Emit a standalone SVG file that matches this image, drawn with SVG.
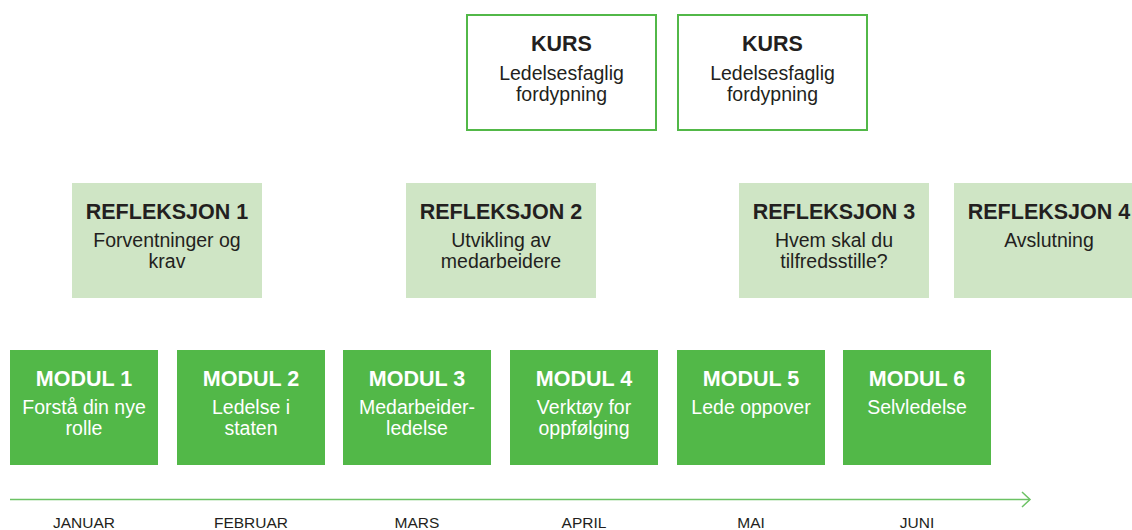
<svg xmlns="http://www.w3.org/2000/svg" width="1132" height="530" viewBox="0 0 1132 530">
  <style>
    text { font-family: "Liberation Sans", Arial, Helvetica, sans-serif; text-anchor: middle; }
    .kurs rect { fill: #ffffff; stroke: #52b848; stroke-width: 2; }
    .refl rect { fill: #cfe5c5; }
    .modul rect { fill: #52b848; }
    .title { font-weight: bold; font-size: 21.5px; }
    .sub { font-size: 19.5px; }
    .dark { fill: #231f20; }
    .light { fill: #ffffff; }
    .month { font-size: 15.5px; fill: #231f20; }
    .axis { stroke: #6cc264; stroke-width: 1.5; fill: none; }
  </style>

  <!-- course blocks -->
  <g id="kurs1" class="kurs">
    <rect x="467" y="15" width="189" height="115"/>
    <text class="title dark" x="561.5" y="51">KURS</text>
    <text class="sub dark" x="561.5" y="80">Ledelsesfaglig</text>
    <text class="sub dark" x="561.5" y="101">fordypning</text>
  </g>
  <g id="kurs2" class="kurs">
    <rect x="678" y="15" width="189" height="115"/>
    <text class="title dark" x="772.5" y="51">KURS</text>
    <text class="sub dark" x="772.5" y="80">Ledelsesfaglig</text>
    <text class="sub dark" x="772.5" y="101">fordypning</text>
  </g>

  <!-- reflection sessions -->
  <g id="refleksjon1" class="refl">
    <rect x="72" y="183" width="190" height="115"/>
    <text class="title dark" x="167" y="219">REFLEKSJON 1</text>
    <text class="sub dark" x="167" y="247">Forventninger og</text>
    <text class="sub dark" x="167" y="268">krav</text>
  </g>
  <g id="refleksjon2" class="refl">
    <rect x="406" y="183" width="190" height="115"/>
    <text class="title dark" x="501" y="219">REFLEKSJON 2</text>
    <text class="sub dark" x="501" y="247">Utvikling av</text>
    <text class="sub dark" x="501" y="268">medarbeidere</text>
  </g>
  <g id="refleksjon3" class="refl">
    <rect x="739" y="183" width="190" height="115"/>
    <text class="title dark" x="834" y="219">REFLEKSJON 3</text>
    <text class="sub dark" x="834" y="247">Hvem skal du</text>
    <text class="sub dark" x="834" y="268">tilfredsstille?</text>
  </g>
  <g id="refleksjon4" class="refl">
    <rect x="954" y="183" width="190" height="115"/>
    <text class="title dark" x="1049" y="219">REFLEKSJON 4</text>
    <text class="sub dark" x="1049" y="247">Avslutning</text>
  </g>

  <!-- modules -->
  <g id="modul1" class="modul">
    <rect x="10" y="350" width="148" height="115"/>
    <text class="title light" x="84" y="386">MODUL 1</text>
    <text class="sub light" x="84" y="414">Forstå din nye</text>
    <text class="sub light" x="84" y="435">rolle</text>
  </g>
  <g id="modul2" class="modul">
    <rect x="177" y="350" width="148" height="115"/>
    <text class="title light" x="251" y="386">MODUL 2</text>
    <text class="sub light" x="251" y="414">Ledelse i</text>
    <text class="sub light" x="251" y="435">staten</text>
  </g>
  <g id="modul3" class="modul">
    <rect x="343" y="350" width="148" height="115"/>
    <text class="title light" x="417" y="386">MODUL 3</text>
    <text class="sub light" x="417" y="414">Medarbeider-</text>
    <text class="sub light" x="417" y="435">ledelse</text>
  </g>
  <g id="modul4" class="modul">
    <rect x="510" y="350" width="148" height="115"/>
    <text class="title light" x="584" y="386">MODUL 4</text>
    <text class="sub light" x="584" y="414">Verktøy for</text>
    <text class="sub light" x="584" y="435">oppfølging</text>
  </g>
  <g id="modul5" class="modul">
    <rect x="677" y="350" width="148" height="115"/>
    <text class="title light" x="751" y="386">MODUL 5</text>
    <text class="sub light" x="751" y="414">Lede oppover</text>
  </g>
  <g id="modul6" class="modul">
    <rect x="843" y="350" width="148" height="115"/>
    <text class="title light" x="917" y="386">MODUL 6</text>
    <text class="sub light" x="917" y="414">Selvledelse</text>
  </g>

  <!-- timeline -->
  <g id="connectors">
    <line class="axis" x1="10" y1="499.5" x2="1030" y2="499.5"/>
    <polyline class="axis" points="1022,492 1030,499.5 1022,507"/>
  </g>

  <g id="months">
    <text class="month" x="84" y="528">JANUAR</text>
    <text class="month" x="251" y="528">FEBRUAR</text>
    <text class="month" x="417" y="528">MARS</text>
    <text class="month" x="584" y="528">APRIL</text>
    <text class="month" x="751" y="528">MAI</text>
    <text class="month" x="917" y="528">JUNI</text>
  </g>
</svg>
